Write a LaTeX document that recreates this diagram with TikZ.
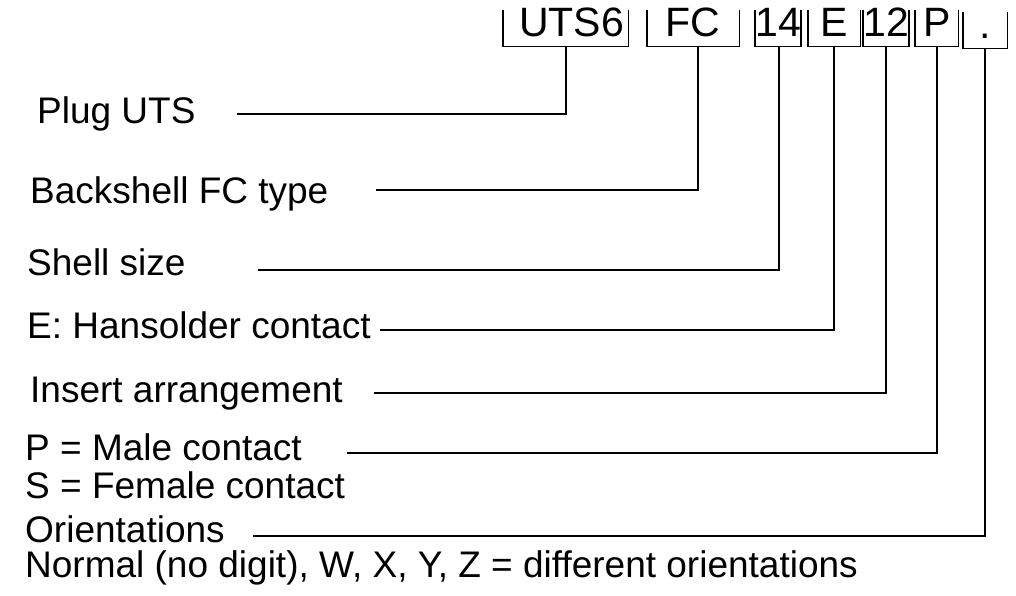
\documentclass[tikz,border=0pt]{standalone}
\usepackage{fontspec}
\setmainfont{Liberation Sans}
\begin{document}
\begin{tikzpicture}[x=1pt,y=-1pt,
  lbl/.style={anchor=base west, inner sep=0pt, font=\fontsize{37}{40}\selectfont},
  codebox/.style={anchor=north west, inner sep=0pt, text height=26pt, text depth=10pt, font=\fontsize{41}{44}\selectfont},
  bracket/.style={line width=1.6pt},
  link/.style={line width=1.6pt}]
\useasboundingbox (0,0) rectangle (1016,595);
% code parts
\node[codebox, minimum width=125pt] (c1) at (503,10) {\hspace*{12pt}UTS6};
\node[codebox, minimum width=92pt]  (c2) at (647,10) {FC};
\node[codebox, minimum width=45pt]  (c3) at (755,10) {14};
\node[codebox, minimum width=52pt]  (c4) at (808,10) {E};
\node[codebox, minimum width=44pt]  (c5) at (863,10) {12};
\node[codebox, minimum width=43pt]  (c6) at (915,10) {P};
\node[codebox, minimum width=44pt]  (c7) at (963,12) {.};
\foreach \c in {c1,c2,c3,c4,c5,c6,c7}
  \draw[bracket] (\c.north west) |- (\c.south east) -- (\c.north east);
% labels
\node[lbl] (l1) at (37,123) {Plug UTS};
\node[lbl] (l2) at (30,203) {Backshell FC type};
\node[lbl] (l3) at (27,275) {Shell size};
\node[lbl] (l4) at (27,338) {E: Hansolder contact};
\node[lbl] (l5) at (30,402) {Insert arrangement};
\node[lbl] (l6) at (25,460) {P = Male contact};
\node[lbl] (l7) at (25,498) {S = Female contact};
\node[lbl] (l8) at (25,542) {Orientations};
\node[lbl] (l9) at (25,577) {Normal (no digit), W, X, Y, Z = different orientations};
% line starts
\coordinate (s1) at (237,114);
\coordinate (s2) at (376,190);
\coordinate (s3) at (258,270);
\coordinate (s4) at (380,330);
\coordinate (s5) at (374,393);
\coordinate (s6) at (347,453);
\coordinate (s7) at (253,536);
% connectors
\draw[link] (s1) -| (c1.south);
\draw[link] (s2) -| ([xshift=5pt]c2.south);
\draw[link] (s3) -| ([xshift=1pt]c3.south);
\draw[link] (s4) -| (c4.south);
\draw[link] (s5) -| (c5.south);
\draw[link] (s6) -| (c6.south);
\draw[link] (s7) -| (c7.south);
\end{tikzpicture}
\end{document}
